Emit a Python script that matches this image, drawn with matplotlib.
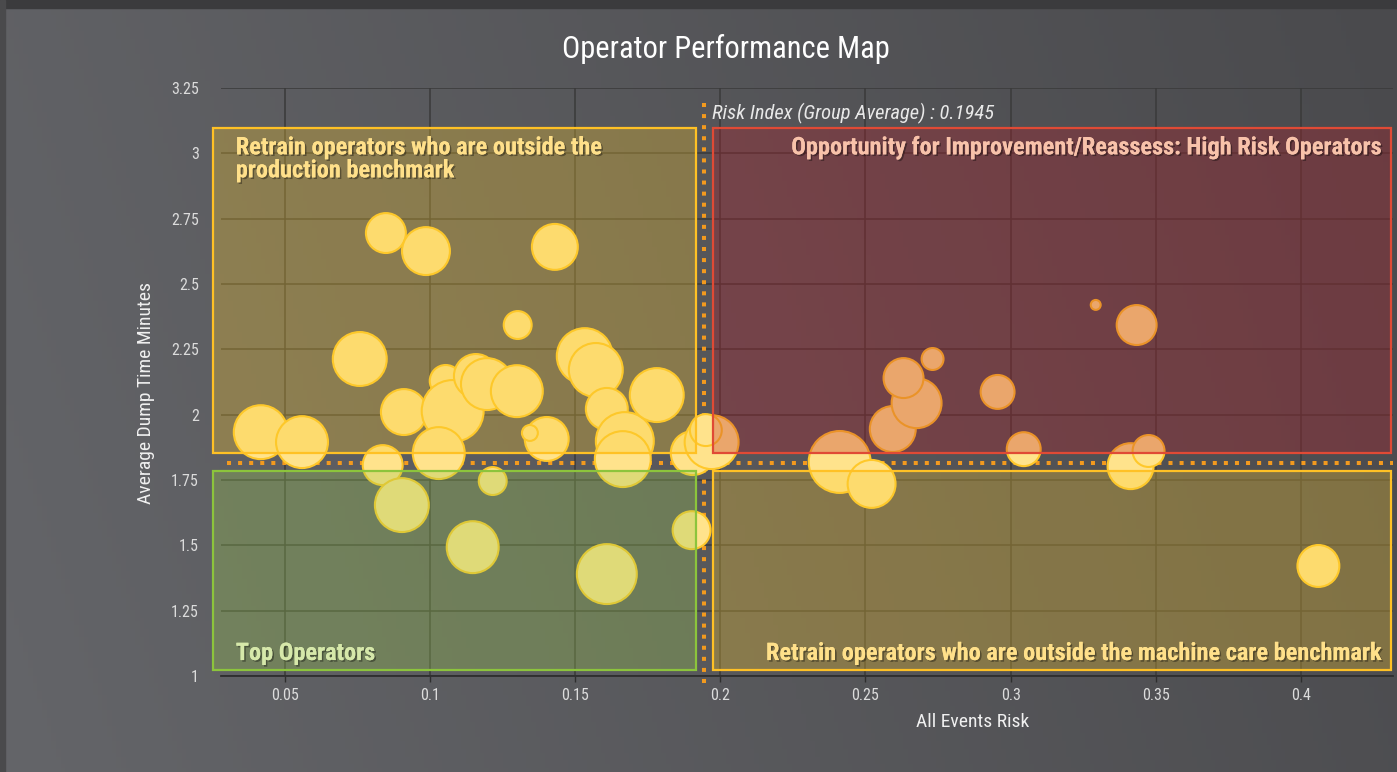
import numpy as np
import matplotlib
matplotlib.use("Agg")
import matplotlib.pyplot as plt
import matplotlib.patheffects as pe
from matplotlib.patches import Rectangle

# operators: all events risk, average dump time, bubble size
risk = [0.0848, 0.0986, 0.0758, 0.1430, 0.1302, 0.1533, 0.1571, 0.0417, 0.0559, 0.0910,
        0.1054, 0.1078, 0.1158, 0.1196, 0.1299, 0.1402, 0.1344, 0.1609, 0.1671, 0.1664,
        0.1781, 0.0837, 0.1030, 0.1216, 0.0903, 0.1147, 0.1609, 0.1901, 0.1905, 0.1970,
        0.1950, 0.2411, 0.2521, 0.2594, 0.2676, 0.2631, 0.2731, 0.2955, 0.3045, 0.3293,
        0.3434, 0.3413, 0.3475, 0.4060]
dump = [2.695, 2.626, 2.213, 2.642, 2.343, 2.224, 2.171, 1.933, 1.895, 2.010,
        2.129, 2.014, 2.148, 2.117, 2.090, 1.907, 1.930, 2.022, 1.899, 1.830,
        2.075, 1.807, 1.853, 1.746, 1.654, 1.493, 1.390, 1.558, 1.853, 1.895,
        1.941, 1.819, 1.735, 1.945, 2.044, 2.140, 2.213, 2.087, 1.868, 2.420,
        2.343, 1.803, 1.861, 1.421]
size = [21, 25, 28, 24, 15, 29, 28, 28, 27, 24,
        17, 32, 23, 27, 27, 23, 9, 22, 30, 29,
        28, 21, 27, 15, 28, 27, 31, 20, 23, 28,
        17, 32, 25, 24, 26, 21, 12, 18, 18, 6,
        21, 24, 17, 22]

risk_avg = 0.1945
dump_avg = 1.815

xticks = [0.05, 0.1, 0.15, 0.2, 0.25, 0.3, 0.35, 0.4]
xlabels = ["0.05", "0.1", "0.15", "0.2", "0.25", "0.3", "0.35", "0.4"]
yticks = [1, 1.25, 1.5, 1.75, 2, 2.25, 2.5, 2.75, 3, 3.25]
ylabels = ["1", "1.25", "1.5", "1.75", "2", "2.25", "2.5", "2.75", "3", "3.25"]

plt.rcParams["font.family"] = ["Roboto Condensed", "Lato", "DejaVu Sans"]

fig = plt.figure(figsize=(13.97, 7.72), dpi=100)

# background gradient
bg = fig.add_axes([0, 0, 1, 1], zorder=-10)
u = np.linspace(0, 1, 300)
v = np.linspace(0, 1, 200)
U, V = np.meshgrid(u, v)
t = 0.85 * U + 0.15 * V
left = np.array([100, 101, 105]) / 255
right = np.array([74, 74, 77]) / 255
img = left[None, None, :] * (1 - t[..., None]) + right[None, None, :] * t[..., None]
bg.imshow(img, extent=[0, 1, 0, 1], aspect="auto", origin="lower")
bg.add_patch(Rectangle((0, 1 - 8 / 772), 1, 8 / 772, color="#3b3b3d"))
bg.add_patch(Rectangle((0, 0), 5 / 1397, 1, color="#4a4a4c"))
bg.set_xlim(0, 1)
bg.set_ylim(0, 1)
bg.axis("off")

ax = fig.add_axes([221 / 1397, 96 / 772, 1172 / 1397, 588 / 772])
ax.set_facecolor("none")
ax.set_xlim(0.028, 0.4317)
ax.set_ylim(1, 3.25)

ax.set_xticks(xticks, labels=xlabels)
ax.set_yticks(yticks, labels=ylabels)
ax.tick_params(axis="y", length=0, pad=16, labelsize=11.5, labelcolor="#dcdcdc")
ax.tick_params(axis="x", length=4.5, width=1, color="#2e2e2e", pad=4, labelsize=11.5, labelcolor="#dcdcdc")
ax.grid(True, color="#3a3a3a", lw=1.1, zorder=0)
ax.set_axisbelow(True)
for s in ["top", "left", "right"]:
    ax.spines[s].set_visible(False)
ax.spines["bottom"].set_color("#2e2e2e")
ax.spines["bottom"].set_linewidth(1.3)

# group average lines
dots = dict(color="#f39a1e", lw=2.9, linestyle=(0, (1, 1.75)), dash_capstyle="butt",
            zorder=2, clip_on=False)
ax.plot([risk_avg, risk_avg], [0.973, 3.204], **dots)
ax.plot([0.030, 0.4317], [dump_avg, dump_avg], **dots)

# bubbles
s = (1.44 * np.array(size) - 1.5) ** 2
ax.scatter(risk, dump, s=s, facecolor="#ffe38c", edgecolor="#ffc82a", linewidths=1.5,
           zorder=3, clip_on=False)

# quadrant boxes
boxes = [
    (0.0252, 1.853, 0.1915, 3.097, "#fbc92a", 0.30, "#ffc125"),
    (0.1974, 1.853, 0.4310, 3.097, "#bc1a25", 0.30, "#e04a35"),
    (0.0252, 1.023, 0.1915, 1.784, "#9cc850", 0.32, "#8cc43c"),
    (0.1974, 1.023, 0.4310, 1.784, "#fbc92a", 0.30, "#ffc125"),
]
for x0, y0, x1, y1, fc, a, ec in boxes:
    ax.add_patch(Rectangle((x0, y0), x1 - x0, y1 - y0, facecolor=fc, alpha=a,
                           edgecolor="none", zorder=4, clip_on=False))
    ax.add_patch(Rectangle((x0, y0), x1 - x0, y1 - y0, fill=False, edgecolor=ec,
                           lw=1.6, zorder=5, clip_on=False))

shadow = [pe.withSimplePatchShadow(offset=(1.2, -1.2), shadow_rgbFace="black", alpha=0.35), pe.Normal()]
tkw = dict(fontsize=17.5, fontweight="bold", zorder=6, path_effects=shadow)
ax.text(0.0331, 3.065, "Retrain operators who are outside the\nproduction benchmark", ha="left", va="top",
        color="#ffe08a", linespacing=1.0, **tkw)
ax.text(0.4274, 3.065, "Opportunity for Improvement/Reassess: High Risk Operators", ha="right", va="top",
        color="#f8c2aa", **tkw)
ax.text(0.0331, 1.061, "Top Operators", ha="left", va="baseline", color="#d6e8aa", **tkw)
ax.text(0.4274, 1.061, "Retrain operators who are outside the machine care benchmark", ha="right",
        va="baseline", color="#ffe08a", **tkw)

ax.text(0.1971, 3.154, "Risk Index (Group Average) : 0.1945", ha="left", va="center",
        fontsize=14.8, fontstyle="italic", color="#e8e8e8", zorder=6)

fig.text(726 / 1397, 1 - 49 / 772, "Operator Performance Map", ha="center", va="center",
         fontsize=22, color="white")
fig.text(973 / 1397, 1 - 722 / 772, "All Events Risk", ha="center", va="center",
         fontsize=14, color="#f0f0f0")
fig.text(146 / 1397, 1 - 393 / 772, "Average Dump Time Minutes", ha="center", va="center",
         rotation=90, fontsize=14, color="#f0f0f0")

fig.savefig("out.png", dpi=100)
